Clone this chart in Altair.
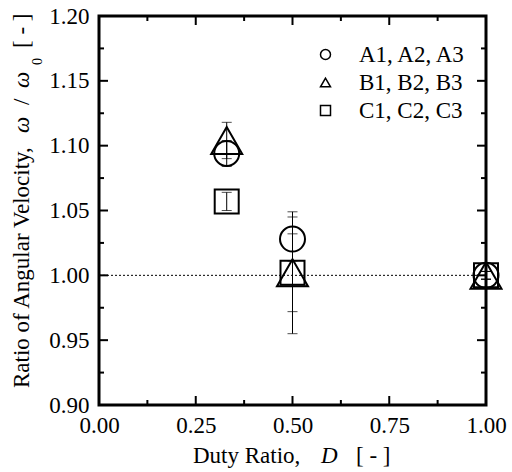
import altair as alt
import pandas as pd

# ---- data ----
series_names = ["A1, A2, A3", "B1, B2, B3", "C1, C2, C3"]
shapes = ["circle", "triangle-up", "square"]
marker_sizes = [625, 961, 576]
duty = [0.33, 0.50, 1.00]
ratio_A = [1.094, 1.028, 1.000]
err_A = [0.010, 0.017, 0.003]
ratio_B = [1.104, 1.002, 1.000]
err_B = [0.014, 0.047, 0.003]
ratio_C = [1.057, 1.002, 1.000]
err_C = [0.007, 0.030, 0.003]

x_major = [0.0, 0.25, 0.50, 0.75, 1.00]
x_minor = [0.125, 0.375, 0.625, 0.875]
y_major = [0.90, 0.95, 1.00, 1.05, 1.10, 1.15, 1.20]
y_minor = [0.925, 0.975, 1.025, 1.075, 1.125, 1.175]
ref_level = [1.0]

x_title = ["Duty Ratio,", "D", "[ - ]"]
y_title = ["Ratio of Angular Velocity,", "\u03c9", "/", "\u03c9", "0", "[ - ]"]

# ---- build table ----
rows = []
for name, vals, errs in zip(series_names, [ratio_A, ratio_B, ratio_C], [err_A, err_B, err_C]):
    for x, v, e in zip(duty, vals, errs):
        rows.append({"series": name, "D": x, "ratio": v, "lo": v - e, "hi": v + e})
df = pd.DataFrame(rows)

W, H = 387, 389
FONT = "Liberation Serif"
xs = alt.Scale(domain=[0, 1], nice=False)
ys = alt.Scale(domain=[0.9, 1.2], nice=False)
xa = alt.Axis(values=x_major, format=".2f", ticks=False, domain=False, grid=False, title=None,
              labelFont=FONT, labelFontSize=23, labelColor="black", labelPadding=9,
              labelFlush=False, labelOverlap=False)
ya = alt.Axis(values=y_major, format=".2f", ticks=False, domain=False, grid=False, title=None,
              labelFont=FONT, labelFontSize=23, labelColor="black", labelPadding=10,
              labelFlush=False, labelOverlap=False)


def X(f):
    return alt.X(f, scale=xs, axis=xa)


def Y(f):
    return alt.Y(f, scale=ys, axis=ya)


ref = alt.Chart(pd.DataFrame({"y": ref_level})).mark_rule(
    color="black", strokeWidth=1, strokeDash=[2, 2]
).encode(y=Y("y:Q"), x=alt.value(0), x2=alt.value(W))

bars = alt.Chart(df).mark_rule(color="black", strokeWidth=1).encode(
    x=X("D:Q"), y=Y("lo:Q"), y2="hi:Q"
)
cap_lo = alt.Chart(df).mark_tick(color="black", orient="horizontal", size=10, thickness=1).encode(
    x=X("D:Q"), y=Y("lo:Q")
)
cap_hi = alt.Chart(df).mark_tick(color="black", orient="horizontal", size=10, thickness=1).encode(
    x=X("D:Q"), y=Y("hi:Q")
)

legend = alt.Legend(title=None, orient="none", legendX=215, legendY=27,
                    labelFont=FONT, labelFontSize=23, labelColor="black",
                    symbolSize=100, symbolStrokeWidth=1.5, symbolStrokeColor="black",
                    symbolFillColor="transparent", labelOffset=22, rowPadding=4, padding=0)

pt_layers = []
for name, sz in zip(series_names, marker_sizes):
    pt_layers.append(
        alt.Chart(df).transform_filter(alt.datum.series == name).mark_point(
            filled=False, color="black", strokeWidth=2, opacity=1, size=sz
        ).encode(
            x=X("D:Q"),
            y=Y("ratio:Q"),
            shape=alt.Shape("series:N", scale=alt.Scale(domain=series_names, range=shapes), legend=legend),
        )
    )


def tick_layer(vals, axis, length):
    d = pd.DataFrame({"v": vals})
    m = alt.Chart(d).mark_rule(color="black", strokeWidth=2)
    if axis == "bottom":
        return m.encode(x=X("v:Q"), y=alt.value(H), y2=alt.value(H - length))
    if axis == "top":
        return m.encode(x=X("v:Q"), y=alt.value(0), y2=alt.value(length))
    if axis == "left":
        return m.encode(y=Y("v:Q"), x=alt.value(0), x2=alt.value(length))
    return m.encode(y=Y("v:Q"), x=alt.value(W), x2=alt.value(W - length))


ticks = []
for side in ["bottom", "top"]:
    ticks.append(tick_layer(x_major, side, 9))
    ticks.append(tick_layer(x_minor, side, 5))
for side in ["left", "right"]:
    ticks.append(tick_layer(y_major, side, 9))
    ticks.append(tick_layer(y_minor, side, 5))


def txt(s, x, y, size=23, italic=False, angle=0):
    kw = dict(font=FONT, fontSize=size, color="black", align="left", baseline="alphabetic")
    if italic:
        kw["fontStyle"] = "italic"
    if angle:
        kw["angle"] = angle
    return alt.Chart(pd.DataFrame({"t": [s]})).mark_text(**kw).encode(
        text="t:N", x=alt.value(x), y=alt.value(y)
    )


titles = [
    txt(x_title[0], 94, 447),
    txt(x_title[1], 222, 447, italic=True),
    txt(x_title[2], 257, 447),
    txt(y_title[0], -70, 372, angle=270),
    txt(y_title[1], -70, 117, italic=True, angle=270),
    txt(y_title[2], -70, 89, angle=270),
    txt(y_title[3], -70, 72, italic=True, angle=270),
    txt(y_title[4], -57, 49, size=14, angle=270),
    txt(y_title[5], -70, 32, angle=270),
]

chart = alt.layer(ref, bars, cap_lo, cap_hi, *ticks, *pt_layers, *titles).properties(
    width=W, height=H,
    autosize=alt.AutoSizeParams(type="none"),
    padding={"left": 99, "top": 16, "right": 26, "bottom": 67},
    background="white",
).configure_view(stroke="black", strokeWidth=3)

chart.save("out.html", embed_options={"renderer": "svg", "actions": False})
